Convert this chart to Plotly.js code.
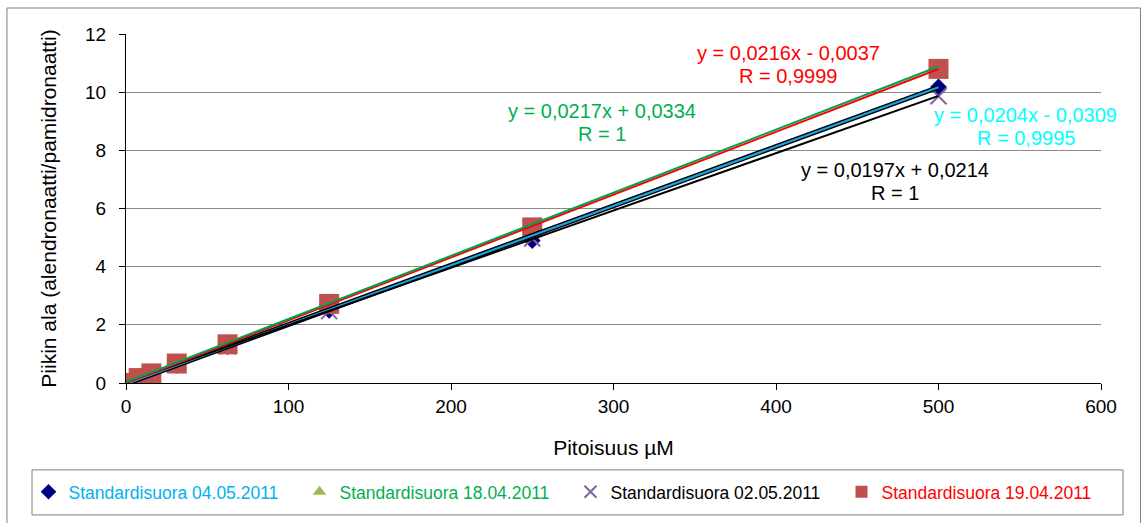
<!DOCTYPE html>
<html>
<head>
<meta charset="utf-8">
<script src="https://cdn.plot.ly/plotly-3.0.1.min.js"></script>
<style>html,body{margin:0;padding:0;background:#fff;}#chart{width:1147px;height:523px;}</style>
</head>
<body>
<div id="chart"></div>
<script>
// ---- data ----
const concentration = [0, 7.8125, 15.625, 31.25, 62.5, 125, 250, 500];
const seriesNames = ["Standardisuora 04.05.2011", "Standardisuora 18.04.2011", "Standardisuora 02.05.2011", "Standardisuora 19.04.2011"];
const values0405 = [0, 0.13, 0.29, 0.61, 1.25, 2.5, 4.9, 10.18];
const values1804 = [0, 0.2, 0.37, 0.72, 1.4, 2.75, 5.5, 10.88];
const values0205 = [0, 0.17, 0.33, 0.64, 1.26, 2.47, 4.97, 9.86];
const values1904 = [0, 0.17, 0.33, 0.67, 1.33, 2.72, 5.35, 10.8];
const slopes = [0.0204, 0.0217, 0.0197, 0.0216];
const intercepts = [-0.0309, 0.0334, 0.0214, -0.0037];
const eqLabels = ["y = 0,0204x - 0,0309", "y = 0,0217x + 0,0334", "y = 0,0197x + 0,0214", "y = 0,0216x - 0,0037"];
const rLabels = ["R = 0,9995", "R = 1", "R = 1", "R = 0,9999"];
const trendRange = [0, 500];
const xTicks = [0, 100, 200, 300, 400, 500, 600];
const yTicks = [0, 2, 4, 6, 8, 10, 12];

const FONT = "Liberation Sans, Arial, sans-serif";
const textColors = ["#00b0f0", "#00b050", "#000000", "#ff0000"];
const allValues = [values0405, values1804, values0205, values1904];
const markers = [
  {symbol: "diamond", color: "#000080", size: 13},
  {symbol: "triangle-up", color: "#9bbb59", size: 11},
  {symbol: "x-thin", color: "#8064a2", size: 16, line: {color: "#8064a2", width: 2}},
  {symbol: "square", color: "#c0504d", size: 20}
];

const traces = [];
for (let i = 0; i < 4; i++) {
  traces.push({
    type: "scatter", mode: "markers", x: concentration, y: allValues[i],
    name: '<span style="color:' + textColors[i] + '">' + seriesNames[i] + '</span>',
    marker: markers[i], hoverinfo: "x+y"
  });
}
function trend(i, color, width) {
  return {
    type: "scatter", mode: "lines", x: trendRange,
    y: trendRange.map(v => slopes[i] * v + intercepts[i]),
    line: {color: color, width: width}, showlegend: false, hoverinfo: "skip"
  };
}
traces.push(trend(0, "#000000", 5));
traces.push(trend(0, "#1aa3e0", 2.2));
traces.push(trend(2, "#000000", 2));
traces.push(trend(3, "#ff0000", 2));
traces.push(trend(1, "#00a050", 2));

// annotation positions (data coords)
const annPos = [
  {x: 553.8, y1: 9.22, y2: 8.42, color: "#00ffff"},
  {x: 292.9, y1: 9.35, y2: 8.56, color: "#00b050"},
  {x: 473.2, y1: 7.32, y2: 6.54, color: "#000000"},
  {x: 407.4, y1: 11.36, y2: 10.56, color: "#ff0000"}
];
const annotations = [];
for (let i = 0; i < 4; i++) {
  const p = annPos[i];
  annotations.push({x: p.x, y: p.y1, xref: "x", yref: "y", text: eqLabels[i], showarrow: false,
    font: {family: FONT, size: 20, color: p.color}, xanchor: "center", yanchor: "middle"});
  annotations.push({x: p.x, y: p.y2, xref: "x", yref: "y", text: rLabels[i], showarrow: false,
    font: {family: FONT, size: 20, color: p.color}, xanchor: "center", yanchor: "middle"});
}

const layout = {
  width: 1147, height: 523,
  margin: {l: 126, r: 46, t: 34, b: 140},
  paper_bgcolor: "#ffffff", plot_bgcolor: "#ffffff",
  font: {family: FONT, size: 18, color: "#000"},
  showlegend: true,
  legend: {
    orientation: "h", x: -0.1, xanchor: "left", y: -0.312, yanchor: "middle",
    font: {family: FONT, size: 17.5, color: "#000"},
    itemsizing: "constant", entrywidth: 226, entrywidthmode: "pixels",
    bgcolor: "rgba(0,0,0,0)", borderwidth: 0
  },
  xaxis: {
    range: [0, 600], tickvals: xTicks, ticktext: xTicks.map(String),
    showgrid: false, zeroline: false, showline: true, linecolor: "#000", linewidth: 1,
    ticks: "outside", ticklen: 6, tickcolor: "#000", tickfont: {family: FONT, size: 19},
    title: {text: "Pitoisuus µM", font: {family: FONT, size: 21}, standoff: 24}
  },
  yaxis: {
    range: [0, 12], tickvals: yTicks, ticktext: yTicks.map(String),
    showgrid: true, gridcolor: "#8a8a8a", gridwidth: 1, zeroline: false,
    showline: true, linecolor: "#000", linewidth: 1,
    ticks: "outside", ticklen: 6, tickcolor: "#000", tickfont: {family: FONT, size: 19},
    ticklabelstandoff: 9,
    title: {text: "Piikin ala (alendronaatti/pamidronaatti)", font: {family: FONT, size: 21}, standoff: 22}
  },
  shapes: [
    {type: "rect", xref: "paper", yref: "paper", x0: -0.1221, x1: 1.0405, y0: -0.52, y1: 1.0745,
      line: {color: "#7f7f7f", width: 1}, fillcolor: "rgba(0,0,0,0)", layer: "below"},
    {type: "rect", xref: "paper", yref: "paper", x0: -0.0964, x1: 1.0226, y0: -0.378, y1: -0.249,
      line: {color: "#7f7f7f", width: 1}, fillcolor: "rgba(0,0,0,0)", layer: "below"}
  ],
  annotations: annotations
};

Plotly.newPlot("chart", traces, layout, {displayModeBar: false, staticPlot: true});
</script>
</body>
</html>
